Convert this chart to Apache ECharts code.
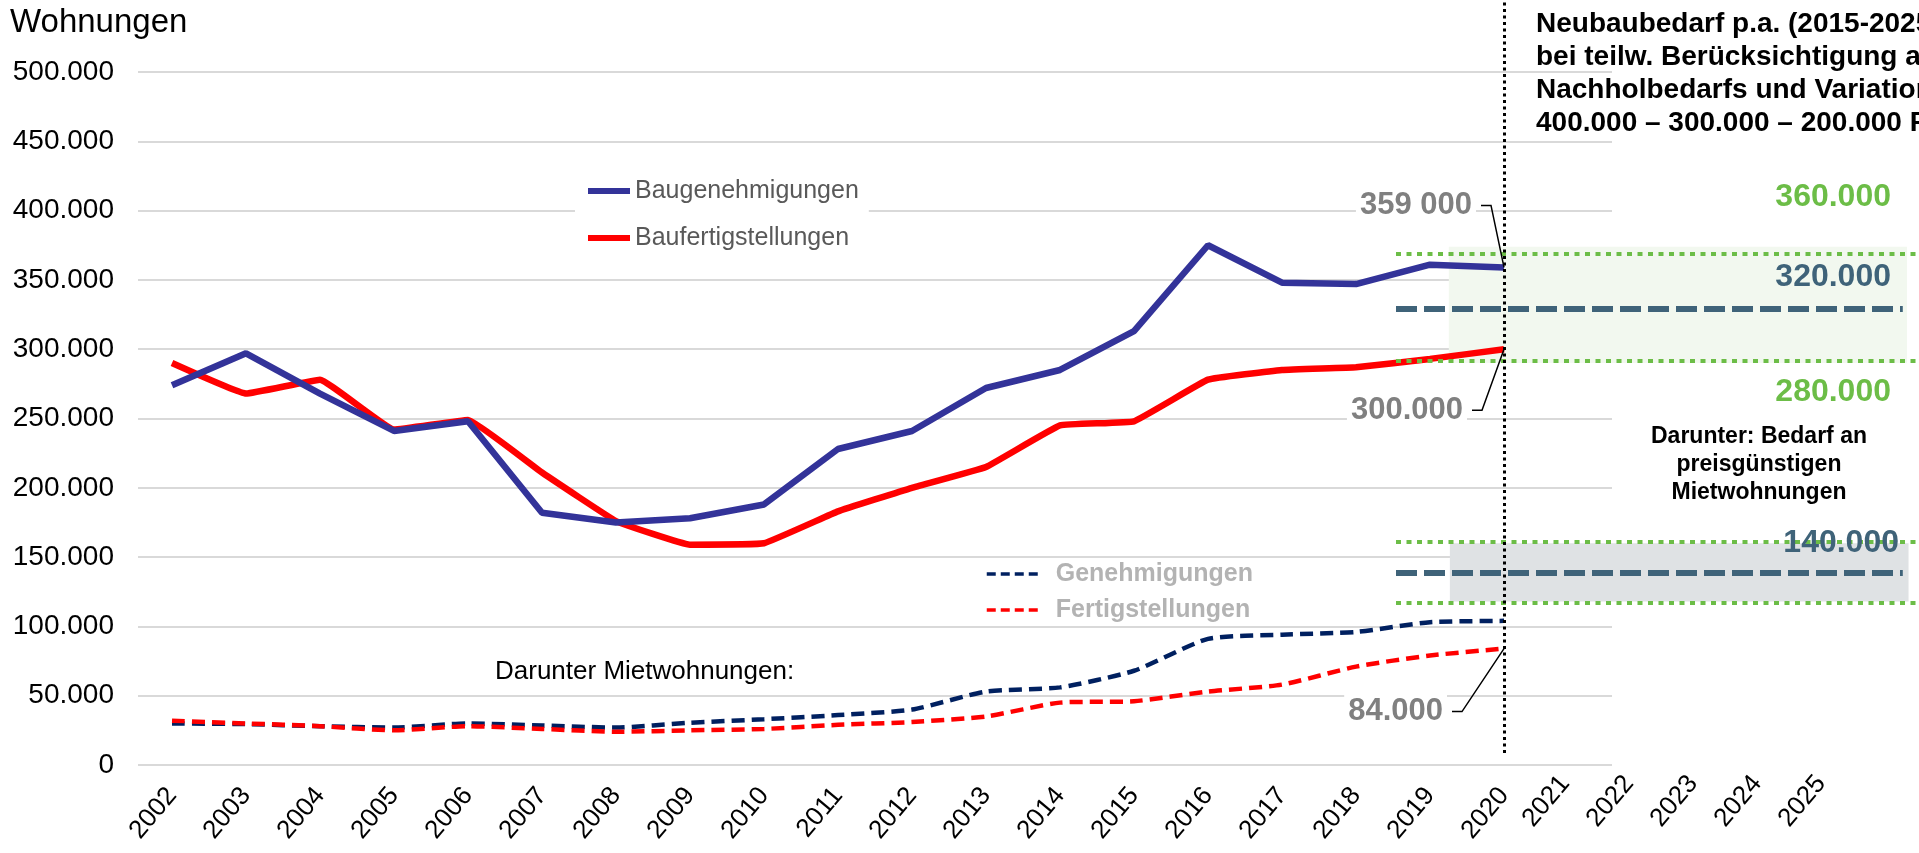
<!DOCTYPE html>
<html><head><meta charset="utf-8">
<script src="https://cdn.jsdelivr.net/npm/echarts@6/dist/echarts.min.js"></script>
<style>html,body{margin:0;padding:0;background:#fff}#c{width:1919px;height:853px}</style>
</head><body><div id="c"></div>
<script>
// ---- data (values in 1000 Wohnungen) ----
const years = ['2002','2003','2004','2005','2006','2007','2008','2009','2010','2011','2012','2013','2014','2015','2016','2017','2018','2019','2020'];
const futureYears = ['2021','2022','2023','2024','2025'];
const baugenehmigungen   = [274, 297, 268, 241, 248, 182, 175, 178, 188, 228, 241, 272, 285, 313, 375, 348, 347, 361, 359];
const baufertigstellungen = [290, 268, 278, 242, 249, 211, 176, 159, 160, 183, 200, 215, 245, 248, 278, 285, 287, 293, 300];
const mietGenehmigungen  = [30, 29.5, 28, 27, 30, 28.5, 27, 30.5, 33, 36, 40, 53, 56, 68, 91, 94, 96, 103, 104];
const mietFertigstellungen = [32, 30, 28, 25, 28, 26, 24, 25, 26, 29, 31, 35, 45, 46, 53, 58, 71, 79, 84];
const calloutTexts = ['359 000', '300.000', '84.000'];
const yTickMin = 0, yTickMax = 500000, yTickStep = 50000;
// reference levels as drawn in the picture, and their printed labels
const needBandLines = [369000, 329000, 292000];
const needBandArea = [374000, 290000];
const needBandLabels = ['360.000', '320.000', '280.000'];
const rentBandLines = [161000, 139000, 117000];
const rentBandArea = [160000, 118000];
const rentBandLabel = '140.000';

const K = 1000;
const FONT = '"Liberation Sans", Arial, sans-serif';
const GREEN = '#6cbd47', SLATE = '#3f6379';
const fmt = v => v === 0 ? '0' : String(v).replace(/\B(?=(\d{3})+(?!\d))/g, '.');
const last = years.length - 1;

// callouts at the last year (label box right edge / vertical offset relative to the point)
const callouts = [
  { value: baugenehmigungen[last] * K, text: calloutTexts[0], rx: -28, dy: -62 },
  { value: baufertigstellungen[last] * K, text: calloutTexts[1], rx: -37, dy: 61 },
  { value: mietFertigstellungen[last] * K, text: calloutTexts[2], rx: -57, dy: 63 }
];

const chart = echarts.init(document.getElementById('c'), null, { renderer: 'canvas' });
const top0 = 72, bottom0 = 88;
const option = {
  animation: false,
  backgroundColor: '#fff',
  grid: [
    { left: 138, right: 307, top: top0, bottom: bottom0 },          // gridlines + y labels
    { left: 135, width: 1406, top: top0, bottom: bottom0 },         // data
    { left: 1533, width: 320, top: top0, bottom: bottom0 },         // 2021-2025 labels
    { left: 1396, right: 0, top: top0, bottom: bottom0 },           // right-side bands
    { left: 135, width: 1406, top: 0, bottom: 100 }                 // vertical dotted line
  ],
  xAxis: [
    { gridIndex: 0, type: 'value', show: false },
    { gridIndex: 1, type: 'category', data: years, boundaryGap: true,
      axisLine: { show: false }, axisTick: { show: false }, splitLine: { show: false },
      axisLabel: { interval: 0, rotate: 50, margin: 26, fontFamily: FONT, fontSize: 26, color: '#000' } },
    { gridIndex: 2, type: 'category', data: futureYears, boundaryGap: true,
      axisLine: { show: false }, axisTick: { show: false }, splitLine: { show: false },
      axisLabel: { interval: 0, rotate: 50, margin: 14, fontFamily: FONT, fontSize: 26, color: '#000' } },
    { gridIndex: 3, type: 'value', min: 0, max: 1, show: false },
    { gridIndex: 4, type: 'category', data: years, boundaryGap: true, show: false }
  ],
  yAxis: [
    { gridIndex: 0, type: 'value', min: yTickMin, max: yTickMax, interval: yTickStep,
      axisLine: { show: false }, axisTick: { show: false },
      splitLine: { lineStyle: { color: '#d9d9d9', width: 2 } },
      axisLabel: { margin: 24, fontFamily: FONT, fontSize: 28, color: '#000', formatter: fmt } },
    { gridIndex: 1, type: 'value', min: yTickMin, max: yTickMax, show: false },
    { gridIndex: 2, type: 'value', min: 0, max: 1, show: false },
    { gridIndex: 3, type: 'value', min: yTickMin, max: yTickMax, show: false },
    { gridIndex: 4, type: 'value', min: 0, max: 1, show: false }
  ],
  legend: [
    { data: ['Baugenehmigungen', 'Baufertigstellungen'], orient: 'vertical', left: 575, top: 170,
      padding: [7, 10], itemWidth: 42, itemHeight: 14, itemGap: 19, backgroundColor: '#fff',
      selectedMode: false, itemStyle: { opacity: 0, borderWidth: 0 }, lineStyle: { width: 6 },
      textStyle: { fontFamily: FONT, fontSize: 25, lineHeight: 28, color: '#595959' } },
    { data: ['Genehmigungen', 'Fertigstellungen'], orient: 'vertical', left: 985, top: 560,
      padding: 0, itemWidth: 53, itemHeight: 14, itemGap: 8, selectedMode: false,
      itemStyle: { opacity: 0, borderWidth: 0 }, lineStyle: { width: 3.5, type: [9, 5] },
      textStyle: { fontFamily: FONT, fontSize: 25, lineHeight: 28, fontWeight: 'bold', color: '#b3b3b3', padding: [0, 0, 0, 11] } }
  ],
  series: [
    { name: 'Baugenehmigungen', type: 'line', xAxisIndex: 1, yAxisIndex: 1, z: 4,
      symbol: 'none', data: baugenehmigungen.map(v => v * K),
      lineStyle: { color: '#333399', width: 6.5 }, itemStyle: { color: '#333399' } },
    { name: 'Baufertigstellungen', type: 'line', xAxisIndex: 1, yAxisIndex: 1, z: 3,
      symbol: 'none', smooth: 0.08, data: baufertigstellungen.map(v => v * K),
      lineStyle: { color: '#ff0000', width: 6.5 }, itemStyle: { color: '#ff0000' } },
    { name: 'Genehmigungen', type: 'line', xAxisIndex: 1, yAxisIndex: 1, z: 3,
      symbol: 'none', smooth: 0.2, data: mietGenehmigungen.map(v => v * K),
      lineStyle: { color: '#002060', width: 4.5, type: [13, 7] }, itemStyle: { color: '#002060' } },
    { name: 'Fertigstellungen', type: 'line', xAxisIndex: 1, yAxisIndex: 1, z: 3,
      symbol: 'none', smooth: 0.2, data: mietFertigstellungen.map(v => v * K),
      lineStyle: { color: '#ff0000', width: 4.5, type: [13, 7] }, itemStyle: { color: '#ff0000' } },
    { name: 'callouts', type: 'custom', xAxisIndex: 1, yAxisIndex: 1, z: 6, silent: true,
      data: callouts.map(c => [last, c.value]),
      renderItem: function (params, api) {
        const c = callouts[params.dataIndex];
        const p = api.coord([api.value(0), api.value(1)]);
        const lx = p[0] + c.rx, ly = p[1] + c.dy;
        return { type: 'group', children: [
          { type: 'polyline', shape: { points: [[lx + 5, ly], [lx + 15, ly], [p[0], p[1]]] },
            style: { stroke: '#000', lineWidth: 1.5, fill: null } },
          { type: 'text', x: lx, y: ly,
            style: { text: c.text, align: 'right', verticalAlign: 'middle',
              font: 'bold 31px "Liberation Sans", Arial, sans-serif', fill: '#808080',
              backgroundColor: '#fff', padding: [5, 4] } }
        ] };
      } },
    { name: 'bands', type: 'line', xAxisIndex: 3, yAxisIndex: 3, data: [], silent: true, z: 2,
      markArea: { silent: true, data: [
        [{ coord: [0.101, needBandArea[0]], itemStyle: { color: '#f2f8ef' } }, { coord: [0.977, needBandArea[1]] }],
        [{ coord: [0.103, rentBandArea[0]], itemStyle: { color: '#dfe2e4' } }, { coord: [0.98, rentBandArea[1]] }]
      ] },
      markLine: { silent: true, symbol: ['none', 'none'], label: { show: false }, data: [
        [{ coord: [0, needBandLines[0]], lineStyle: { color: GREEN, width: 4, type: [5, 5.5] } }, { coord: [1, needBandLines[0]] }],
        [{ coord: [0, needBandLines[1]], lineStyle: { color: SLATE, width: 6, type: [21, 7] } }, { coord: [0.969, needBandLines[1]] }],
        [{ coord: [0, needBandLines[2]], lineStyle: { color: GREEN, width: 4, type: [5, 5.5] } }, { coord: [1, needBandLines[2]] }],
        [{ coord: [0, rentBandLines[0]], lineStyle: { color: GREEN, width: 4, type: [5, 5.5] } }, { coord: [1, rentBandLines[0]] }],
        [{ coord: [0, rentBandLines[1]], lineStyle: { color: SLATE, width: 6, type: [21, 7] } }, { coord: [0.969, rentBandLines[1]] }],
        [{ coord: [0, rentBandLines[2]], lineStyle: { color: GREEN, width: 4, type: [5, 5.5] } }, { coord: [1, rentBandLines[2]] }]
      ] } },
    { name: 'cut', type: 'line', xAxisIndex: 4, yAxisIndex: 4, data: [], silent: true, z: 5,
      markLine: { silent: true, symbol: ['none', 'none'], label: { show: false },
        lineStyle: { color: '#000', width: 3, type: [3, 3.5] },
        data: [{ xAxis: years[last] }] } }
  ],
  graphic: [
    { type: 'text', x: 10, y: 23, silent: true,
      style: { text: 'Wohnungen', fontFamily: FONT, fontSize: 33, fill: '#000', verticalAlign: 'middle' } },
    { type: 'text', x: 1536, y: 8, silent: true,
      style: { text: 'Neubaubedarf p.a. (2015-2025)\nbei teilw. Berücksichtigung a\nNachholbedarfs und Variation\n400.000 – 300.000 – 200.000 F',
        fontFamily: FONT, fontSize: 28, fontWeight: 'bold', lineHeight: 33, fill: '#000' } },
    { type: 'text', x: 1891, y: 197, silent: true, z: 10,
      style: { text: needBandLabels[0], fontFamily: FONT, fontSize: 32, fontWeight: 'bold', fill: GREEN, align: 'right', verticalAlign: 'middle' } },
    { type: 'text', x: 1891, y: 277, silent: true, z: 10,
      style: { text: needBandLabels[1], fontFamily: FONT, fontSize: 32, fontWeight: 'bold', fill: SLATE, align: 'right', verticalAlign: 'middle' } },
    { type: 'text', x: 1891, y: 392, silent: true, z: 10,
      style: { text: needBandLabels[2], fontFamily: FONT, fontSize: 32, fontWeight: 'bold', fill: GREEN, align: 'right', verticalAlign: 'middle' } },
    { type: 'text', x: 1899, y: 543, silent: true, z: 10,
      style: { text: rentBandLabel, fontFamily: FONT, fontSize: 32, fontWeight: 'bold', fill: SLATE, align: 'right', verticalAlign: 'middle' } },
    { type: 'text', x: 1759, y: 423, silent: true,
      style: { text: 'Darunter: Bedarf an\npreisgünstigen\nMietwohnungen', fontFamily: FONT, fontSize: 23, fontWeight: 'bold',
        lineHeight: 28, fill: '#000', align: 'center' } },
    { type: 'text', x: 495, y: 672, silent: true,
      style: { text: 'Darunter Mietwohnungen:', fontFamily: FONT, fontSize: 26, fill: '#000', verticalAlign: 'middle' } }
  ]
};
chart.setOption(option);
</script>
</body></html>
